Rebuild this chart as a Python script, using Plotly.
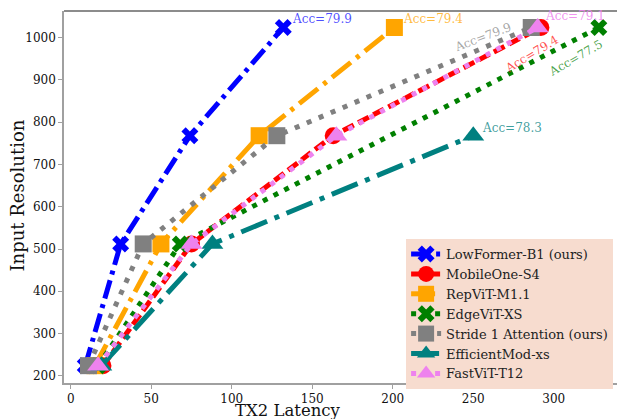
import plotly.graph_objects as go

# ---- data ----
models = ["LowFormer-B1 (ours)", "MobileOne-S4", "RepViT-M1.1", "EdgeViT-XS",
          "Stride 1 Attention (ours)", "EfficientMod-xs", "FastViT-T12"]
lowformer_lat = [9, 31, 74, 132]
lowformer_res = [224, 512, 768, 1024]
mobileone_lat = [20, 75, 163, 292]
mobileone_res = [224, 512, 768, 1024]
repvit_lat = [15, 56, 117, 201]
repvit_res = [224, 512, 768, 1024]
edgevit_lat = [17, 68, 328]
edgevit_res = [224, 512, 1024]
stride1_lat = [11, 45, 128, 286]
stride1_res = [224, 512, 768, 1024]
effmod_lat = [19, 88, 250]
effmod_res = [224, 512, 768]
fastvit_lat = [17, 75, 165, 290]
fastvit_res = [224, 512, 768, 1024]
accs = ["Acc=79.9", "Acc=79.4", "Acc=79.4", "Acc=77.5", "Acc=79.9", "Acc=78.3", "Acc=79.1"]
x_ticks = [0, 50, 100, 150, 200, 250, 300]
y_ticks = [200, 300, 400, 500, 600, 700, 800, 900, 1000]

series = [
    (models[0], lowformer_lat, lowformer_res, "blue", "19px,6px,4px,6px", "x", 15),
    (models[1], mobileone_lat, mobileone_res, "red", "12px,5px", "circle", 17),
    (models[2], repvit_lat, repvit_res, "orange", "24px,7px,4px,7px", "square", 17),
    (models[3], edgevit_lat, edgevit_res, "green", "5px,7px", "x", 15),
    (models[4], stride1_lat, stride1_res, "gray", "5px,8px", "square", 17),
    (models[5], effmod_lat, effmod_res, "teal", "28px,8px,5px,8px", "triangle-up", 19),
    (models[6], fastvit_lat, fastvit_res, "violet", "5px,7px", "triangle-up", 19),
]

fig = go.Figure()
for name, xs, ys, col, dash, sym, size in series:
    fig.add_trace(go.Scatter(
        x=xs, y=ys, name=name, mode="lines+markers",
        line=dict(color=col, width=5, dash=dash),
        marker=dict(symbol=sym, size=size, color=col, line=dict(width=0)),
    ))

font = "DejaVu Serif"
# annotations: (series index, text colour, xshift, yshift, angle, xanchor)
ann_specs = [
    (0, "rgba(0,0,255,0.7)", 7, 8, 0, "left"),
    (2, "rgba(255,165,0,0.75)", 7, 8, 0, "left"),
    (4, "rgba(128,128,128,0.7)", -48, -10, -21, "center"),
    (1, "rgba(255,0,0,0.7)", -9, -27, -31, "center"),
    (3, "rgba(0,128,0,0.7)", -23, -31, -30, "center"),
    (5, "rgba(0,128,128,0.75)", 7, 8, 0, "left"),
    (6, "rgba(238,130,238,0.85)", 5, 11, 0, "left"),
]
for idx, col, xs_, ys_, ang, xa in ann_specs:
    s = series[idx]
    fig.add_annotation(x=s[1][-1], y=s[2][-1], xref="x", yref="y", text=accs[idx],
                       showarrow=False, xshift=xs_, yshift=ys_, textangle=ang,
                       xanchor=xa, yanchor="middle",
                       font=dict(family=font, size=12, color=col))

# axis titles
fig.add_annotation(x=0.4016, y=-0.075, xref="paper", yref="paper", text="TX2 Latency",
                   showarrow=False, xanchor="center", yanchor="middle", borderpad=0,
                   font=dict(family=font, size=16.5, color="#111"))
fig.add_annotation(x=-0.083, y=0.503, xref="paper", yref="paper", text="Input Resolution",
                   showarrow=False, xanchor="center", yanchor="middle", textangle=-90,
                   font=dict(family=font, size=18, color="#111"))

fig.add_shape(type="line", xref="paper", yref="paper", x0=0, x1=1, y0=1, y1=1,
              line=dict(color="#666666", width=1.5))

# page body adds an 8px offset, so the figure is sized to fit the 625x419 window
fig.update_layout(
    width=617, height=411,
    margin=dict(l=56, r=2, t=3, b=36, autoexpand=False),
    paper_bgcolor="white", plot_bgcolor="white",
    font=dict(family=font, size=12, color="#222"),
    showlegend=True,
    legend=dict(x=0.612, y=0.387, xanchor="left", yanchor="top",
                bgcolor="#f7dccf", borderwidth=0,
                font=dict(family=font, size=13, color="#222"),
                tracegroupgap=0),
)
fig.update_xaxes(range=[-4.2, 343], tickvals=x_ticks, automargin=False,
                 showgrid=False, zeroline=False, showline=True, linecolor="#a0a0a0",
                 linewidth=1.5, ticks="outside", ticklen=4, tickcolor="#a0a0a0",
                 tickfont=dict(family=font, size=12, color="#111"))
fig.update_yaxes(range=[183, 1063], tickvals=y_ticks, automargin=False,
                 showgrid=False, zeroline=False, showline=True, linecolor="#a0a0a0",
                 linewidth=1.5, ticks="outside", ticklen=4, tickcolor="#a0a0a0",
                 tickfont=dict(family=font, size=12, color="#111"))

fig.write_html("out.html")
